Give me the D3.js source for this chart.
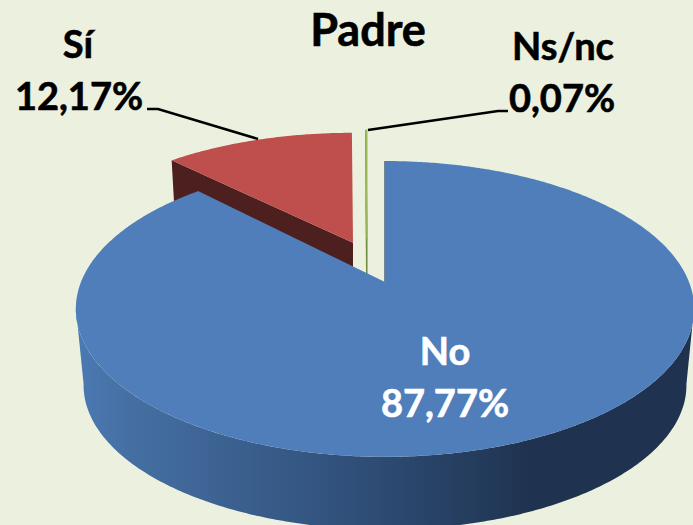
<!DOCTYPE html>
<html><head><meta charset="utf-8">
<script src="https://cdnjs.cloudflare.com/ajax/libs/d3/7.8.5/d3.min.js"></script>
<style>html,body{margin:0;padding:0;background:#ebf1de;overflow:hidden}svg{display:block}text{font-family:Lato,"Open Sans",sans-serif;font-weight:700}</style>
</head><body><script>
const categories = ["No", "Sí", "Ns/nc"];
const values = [87.77, 12.17, 0.07];
const valueLabels = ["87,77%", "12,17%", "0,07%"];
const title = "Padre";
const topColors = ["#4f7ebb", "#be4f4c", "#9bbb59"];
const faceColors = ["#1f3350", "#4d1f1e", "#6f8a3a"];
const W = 693, H = 525;

// Perspective model of the disc
const cx = 385, cy = 282, Rx = 304, Ry = 143, k = 0.182, drop = 77, shrink = 0.975;
const explode = [{dx:0,dv:0,sx:1},{dx:-32,dv:-0.288,sx:1.015},{dx:-18,dv:-0.318,sx:1}];

const svg = d3.select("body").append("svg").attr("width",W).attr("height",H);
svg.append("rect").attr("width",W).attr("height",H).attr("fill","#ebf1de");
const defs = svg.append("defs");
const grad = defs.append("linearGradient").attr("id","side").attr("gradientUnits","userSpaceOnUse")
  .attr("x1",77).attr("x2",530).attr("y1",0).attr("y2",0);
grad.append("stop").attr("offset",0).attr("stop-color","#4b79b2");
grad.append("stop").attr("offset",0.12).attr("stop-color","#456fa3");
grad.append("stop").attr("offset",0.6).attr("stop-color","#30507a");
grad.append("stop").attr("offset",1).attr("stop-color","#1f3350");

const arcs = d3.pie().sort(null).startAngle(0).endAngle(2*Math.PI)(values);

function project(a, r, e, lower){
  const sx = r*Math.sin(a)*e.sx, v = -r*Math.cos(a)+e.dv;
  const w = 1/(1-k*v);
  let x = Rx*sx*w, y = Ry*v*w;
  if(lower){ x*=shrink; y=y*shrink+drop; }
  return [cx+e.dx+x, cy+y];
}
const line = d3.line();
const angles = (a0,a1,step=0.01)=>{const n=Math.max(1,Math.ceil((a1-a0)/step));return d3.range(n+1).map(i=>a0+(a1-a0)*i/n);};
const wedge = (d,i)=>{const e=explode[i];return line([project(0,0,e,false),...angles(d.startAngle,d.endAngle).map(a=>project(a,1,e,false))])+"Z";};
const cutFace = (a,i)=>{const e=explode[i];return line([project(0,0,e,false),project(a,1,e,false),project(a,1,e,true),project(0,0,e,true)])+"Z";};

// Ns/nc slice, then Sí, then No, back to front
[2,1,0].forEach(i=>{
  const d=arcs[i], g=svg.append("g");
  if(i===2){
    g.append("path").attr("d",cutFace(d.startAngle,i)).attr("fill",faceColors[i]).attr("stroke",faceColors[i]).attr("stroke-width",1);
    g.append("path").attr("d",wedge(d,i)).attr("fill",topColors[i]).attr("stroke",topColors[i]).attr("stroke-width",1);
  }
  if(i===1){
    g.append("path").attr("d",cutFace(d.startAngle,i)).attr("fill",faceColors[i]);
    g.append("path").attr("d",wedge(d,i)).attr("fill",topColors[i]);
  }
  if(i===0){
    const as=angles(100*Math.PI/180,260*Math.PI/180);
    const e=explode[0];
    const rim=[...as.map(a=>project(a,1,e,false)),...as.slice().reverse().map(a=>project(a,1,e,true))];
    g.append("path").attr("d",line(rim)+"Z").attr("fill","url(#side)");
    g.append("path").attr("d",line([project(0,1,e,false),project(0,0,e,false)])).attr("stroke","#24405f").attr("stroke-width",1.2).attr("fill","none");
    g.append("path").attr("d",wedge(d,i)).attr("fill",topColors[i]);
  }
});

// Leader lines
const leaders = [[[147,109],[158,109],[258,139]],[[368,130],[498,111],[508,111]]];
svg.selectAll("path.leader").data(leaders).join("path").attr("class","leader")
  .attr("d",d=>line(d)).attr("fill","none").attr("stroke","#000").attr("stroke-width",2.5);

// Text
const label=(t,x,y,fill="#000",size=38)=>svg.append("text").attr("x",x).attr("y",y).attr("text-anchor","middle")
  .attr("font-size",size).attr("fill",fill).attr("stroke",fill).attr("stroke-width",0.6).text(t);
label(title,368,46,"#000",45);
label(categories[1],78,58);
label(valueLabels[1],79,110);
label(categories[2],563,60);
label(valueLabels[2],562,112);
label(categories[0],445,365,"#fff");
label(valueLabels[0],445,417,"#fff");
</script></body></html>
